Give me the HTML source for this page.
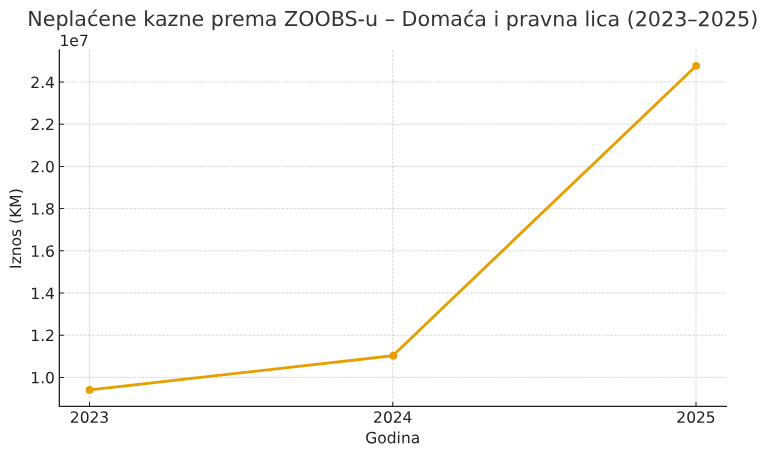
<!DOCTYPE html>
<html lang="bs"><head><meta charset="utf-8"><title>Neplaćene kazne prema ZOOBS-u</title>
<style>html,body{margin:0;padding:0;background:#fff;overflow:hidden;width:768px;height:456px}svg{display:block;will-change:transform}</style>
</head><body>
<svg width="768" height="456" viewBox="0 0 768 456">
<rect width="768" height="456" fill="#fff"/>
<path d="M89.50 406.40V49.80M392.75 406.40V49.80M696.00 406.40V49.80M59.35 377.40H726.33M59.35 335.20H726.33M59.35 293.00H726.33M59.35 250.80H726.33M59.35 208.60H726.33M59.35 166.40H726.33M59.35 124.20H726.33M59.35 82.00H726.33" fill="none" stroke="#cccccc" stroke-width="0.78" stroke-dasharray="2.87,1.24"/>
<path d="M89.50 406.40v-4.52M392.75 406.40v-4.52M696.00 406.40v-4.52M59.35 377.40h4.52M59.35 335.20h4.52M59.35 293.00h4.52M59.35 250.80h4.52M59.35 208.60h4.52M59.35 166.40h4.52M59.35 124.20h4.52M59.35 82.00h4.52" fill="none" stroke="#222222" stroke-width="1.03"/>
<path d="M89.50 389.89 L392.75 355.71 L696.00 65.90" fill="none" stroke="#e69f00" stroke-width="2.85" stroke-linejoin="round" stroke-linecap="square"/>
<circle cx="89.50" cy="389.90" r="3.87" fill="#e69f00"/>
<circle cx="393.40" cy="355.70" r="3.87" fill="#e69f00"/>
<circle cx="696.20" cy="65.75" r="3.87" fill="#e69f00"/>
<path d="M59.35 49.80V406.40H726.33" fill="none" stroke="#222222" stroke-width="1.3" stroke-linecap="square"/>
<g style="font-family:'DejaVu Sans','Liberation Sans',sans-serif;font-size:15.5px" fill="#222222">
<text x="89.50" y="422.70" text-anchor="middle" transform="rotate(0.03 89.50 422.70)">2023</text>
<text x="392.75" y="422.70" text-anchor="middle" transform="rotate(0.03 392.75 422.70)">2024</text>
<text x="696.00" y="422.70" text-anchor="middle" transform="rotate(0.03 696.00 422.70)">2025</text>
<text x="54.98" y="383.30" text-anchor="end" transform="rotate(0.03 54.98 383.30)">1.0</text>
<text x="54.98" y="341.10" text-anchor="end" transform="rotate(0.03 54.98 341.10)">1.2</text>
<text x="54.98" y="298.90" text-anchor="end" transform="rotate(0.03 54.98 298.90)">1.4</text>
<text x="54.98" y="256.70" text-anchor="end" transform="rotate(0.03 54.98 256.70)">1.6</text>
<text x="54.98" y="214.50" text-anchor="end" transform="rotate(0.03 54.98 214.50)">1.8</text>
<text x="54.98" y="172.30" text-anchor="end" transform="rotate(0.03 54.98 172.30)">2.0</text>
<text x="54.98" y="130.10" text-anchor="end" transform="rotate(0.03 54.98 130.10)">2.2</text>
<text x="54.98" y="87.90" text-anchor="end" transform="rotate(0.03 54.98 87.90)">2.4</text>
<text x="392.75" y="443.35" text-anchor="middle" transform="rotate(0.03 392.75 443.35)">Godina</text>
<text transform="translate(20.95 228.60) rotate(-89.97)" text-anchor="middle">Iznos (KM)</text>
<text x="59.50" y="45.93" transform="rotate(0.03 59.50 45.93)">1e7</text>
</g>
<text x="392.75" y="26.10" text-anchor="middle" transform="rotate(0.03 392.75 26.10)" style="font-family:'DejaVu Sans','Liberation Sans',sans-serif;font-size:20.67px" fill="#333333">Neplaćene kazne prema ZOOBS-u – Domaća i pravna lica (2023–2025)</text>
</svg>
</body></html>
